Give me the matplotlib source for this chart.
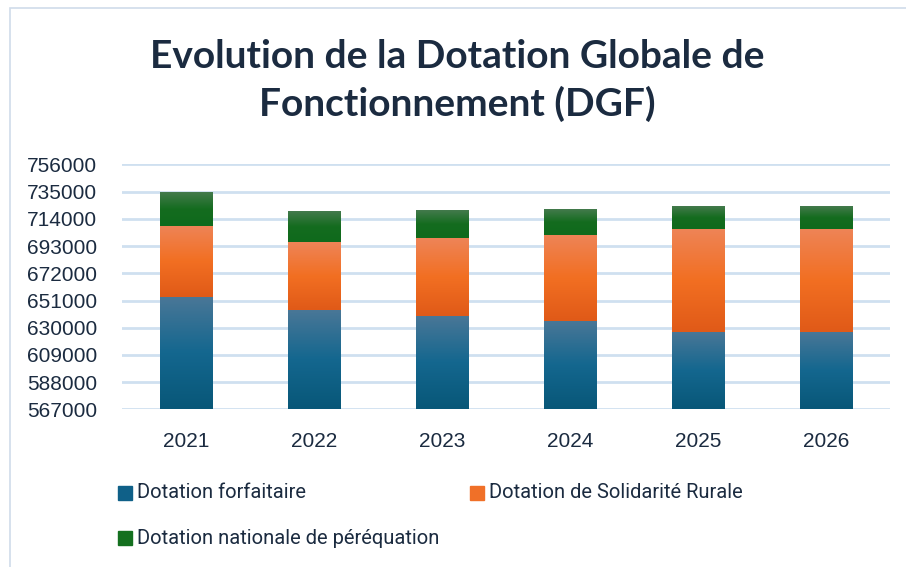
#Stacked bar chart of the DGF (Dotation Globale de Fonctionnement) 2021-2026
import numpy as np
import matplotlib.pyplot as plt
from matplotlib.patches import Rectangle
from matplotlib.colors import LinearSegmentedColormap

#Data (part values of each stack)
years = ['2021', '2022', '2023', '2024', '2025', '2026']
forfaitaire = [653500, 644000, 639000, 635000, 626500, 626500]
solidarite = [54800, 52000, 60000, 66400, 79500, 79500]
perequation = [25500, 23200, 20900, 19300, 17000, 17000]
names = ['Dotation forfaitaire', 'Dotation de Solidarité Rurale',
         'Dotation nationale de péréquation']
yticks = list(range(567000, 756001, 21000))

#Gradient colours (top, middle, bottom) for each series
grads = [['#4a7797', '#14678f', '#085778'],
         ['#ee8457', '#f26f22', '#e05a18'],
         ['#437a4c', '#146c1f', '#0f6a1c']]
solid = ['#0f6088', '#f07028', '#14701f']
txt = '#1b2b40'

fig = plt.figure(figsize=(9.06, 5.67), dpi=100)
ax = fig.add_axes([0.135, 0.278, 0.847, 0.432])

ymin, ymax = yticks[0], yticks[-1]
x = np.arange(len(years))
w = 0.41
#Stack tops; the first series sits on the axis minimum
tops = np.cumsum([forfaitaire, solidarite, perequation], axis=0)
bots = np.vstack([np.full(len(years), ymin), tops[:-1]])
grad = np.linspace(0, 1, 100).reshape(-1, 1)
for k, g in enumerate(grads):
    cmap = LinearSegmentedColormap.from_list('g', g[::-1])
    for i in range(len(years)):
        ax.imshow(grad, extent=[x[i] - w / 2, x[i] + w / 2, bots[k, i], tops[k, i]],
                  origin='lower', cmap=cmap, aspect='auto', zorder=3)

#Axes formatting
ax.set_xlim(-0.5, len(years) - 0.5)
ax.set_ylim(ymin, ymax)
ax.set_yticks(yticks)
ax.set_yticklabels([str(t) for t in yticks])
ax.set_xticks(x)
ax.set_xticklabels(years)
ax.grid(axis='y', color='#cfe0f0', linewidth=2)
ax.set_axisbelow(True)
for s in ax.spines.values():
    s.set_visible(False)
ax.tick_params(length=0, labelsize=15, labelcolor=txt)
ax.tick_params(axis='y', pad=18)
ax.tick_params(axis='x', pad=16)
for lab in ax.get_yticklabels() + ax.get_xticklabels():
    lab.set_family('Liberation Sans')

#Title
fig.text(0.505, 0.858, 'Evolution de la Dotation Globale de\nFonctionnement (DGF)',
         ha='center', va='center', fontsize=28, fontweight='bold', color=txt,
         family='Lato', linespacing=1.4)

#Legend drawn by hand
pos = [(118, 493), (470, 493), (118, 538)]
for (px, py), c, n in zip(pos, solid, names):
    fig.add_artist(Rectangle((px / 906, 1 - (py + 7) / 567), 14 / 906, 14 / 567,
                             transform=fig.transFigure, color=c))
    fig.text((px + 19) / 906, 1 - py / 567, n, fontsize=14.5, color=txt,
             va='center', family='Roboto', fontstretch='condensed')

#Light chart frame
fig.add_artist(Rectangle((10 / 906, -0.01), 1.0, 1 - 8 / 567 + 0.01,
                         transform=fig.transFigure, fill=False,
                         edgecolor='#d0dcea', linewidth=1.2))

plt.savefig('out.png', dpi=100)
